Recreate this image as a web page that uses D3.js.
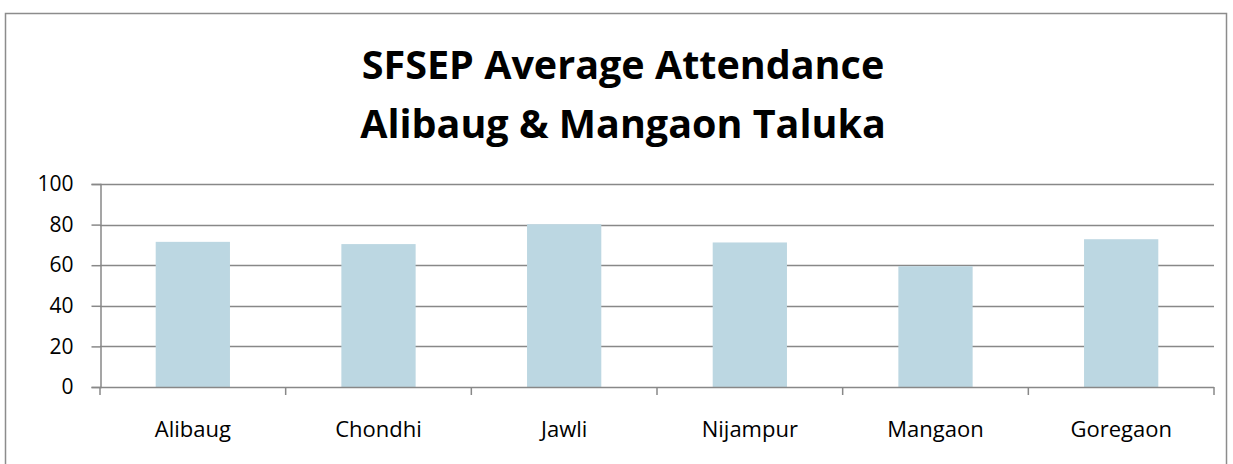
<!DOCTYPE html>
<html>
<head>
<meta charset="utf-8">
<script src="https://cdn.jsdelivr.net/npm/d3@7"></script>
<style>
  body { margin: 0; background: #fff; }
  svg { display: block; font-family: "Open Sans", sans-serif; }
</style>
</head>
<body>
<svg id="chart" width="1233" height="464"></svg>
<script>
// chart data
const titleLines = ["SFSEP Average Attendance", "Alibaug & Mangaon Taluka"];
const categories = ["Alibaug", "Chondhi", "Jawli", "Nijampur", "Mangaon", "Goregaon"];
const attendance = [71.5, 70.4, 80.2, 71.2, 59.5, 72.8];
const yTicks = [0, 20, 40, 60, 80, 100];

const svg = d3.select("#chart");
const margin = { left: 100, right: 19, top: 184, bottom: 77 };
const width = 1233, height = 464;

// outer frame
svg.append("rect")
  .attr("x", 5.5).attr("y", 13.5)
  .attr("width", 1221).attr("height", 470)
  .attr("fill", "none").attr("stroke", "#8c8c8c").attr("stroke-width", 1.5);

// title
svg.append("text")
  .attr("x", 623).attr("y", 79)
  .attr("text-anchor", "middle")
  .attr("font-size", 39.5).attr("font-weight", "bold")
  .selectAll("tspan")
  .data(titleLines)
  .enter().append("tspan")
  .attr("x", 623)
  .attr("dy", (d, i) => i === 0 ? 0 : 59)
  .text(d => d);

const x = d3.scaleBand()
  .domain(categories)
  .range([margin.left, width - margin.right])
  .paddingInner(0.6).paddingOuter(0.3);

const y = d3.scaleLinear()
  .domain([0, 100])
  .range([height - margin.bottom, margin.top]);

// gridlines
svg.append("g")
  .selectAll("line")
  .data(yTicks.slice(1))
  .enter().append("line")
  .attr("x1", margin.left).attr("x2", width - margin.right)
  .attr("y1", d => Math.round(y(d)) + 0.5).attr("y2", d => Math.round(y(d)) + 0.5)
  .attr("stroke", "#888").attr("stroke-width", 1.5);

// bars
svg.append("g")
  .selectAll("rect")
  .data(attendance)
  .enter().append("rect")
  .attr("x", (d, i) => x(categories[i]))
  .attr("width", x.bandwidth())
  .attr("y", d => y(d))
  .attr("height", d => y(0) - y(d))
  .attr("fill", "#bcd7e2");

// y axis
const yAxis = svg.append("g")
  .attr("transform", `translate(${margin.left + 0.5},0)`)
  .call(d3.axisLeft(y).tickValues(yTicks).tickSize(9).tickPadding(18));
yAxis.selectAll("line, path").attr("stroke", "#888").attr("stroke-width", 1.5);
yAxis.selectAll("text").attr("font-size", 21).attr("fill", "#000")
  .attr("font-family", "Open Sans, sans-serif");

// x axis: ticks at band edges
const edges = d3.range(categories.length + 1).map(i => margin.left + i * (width - margin.left - margin.right) / categories.length);
const xAxis = svg.append("g");
xAxis.append("line")
  .attr("x1", margin.left).attr("x2", width - margin.right)
  .attr("y1", Math.round(y(0)) + 0.5).attr("y2", Math.round(y(0)) + 0.5)
  .attr("stroke", "#888").attr("stroke-width", 1.5);
xAxis.selectAll("line.tick")
  .data(edges)
  .enter().append("line")
  .attr("class", "tick")
  .attr("x1", d => d).attr("x2", d => d)
  .attr("y1", y(0)).attr("y2", y(0) + 8)
  .attr("stroke", "#888").attr("stroke-width", 1.5);
xAxis.selectAll("text")
  .data(categories)
  .enter().append("text")
  .attr("x", d => x(d) + x.bandwidth() / 2)
  .attr("y", y(0) + 50)
  .attr("text-anchor", "middle")
  .attr("font-size", 22)
  .text(d => d);
</script>
</body>
</html>
